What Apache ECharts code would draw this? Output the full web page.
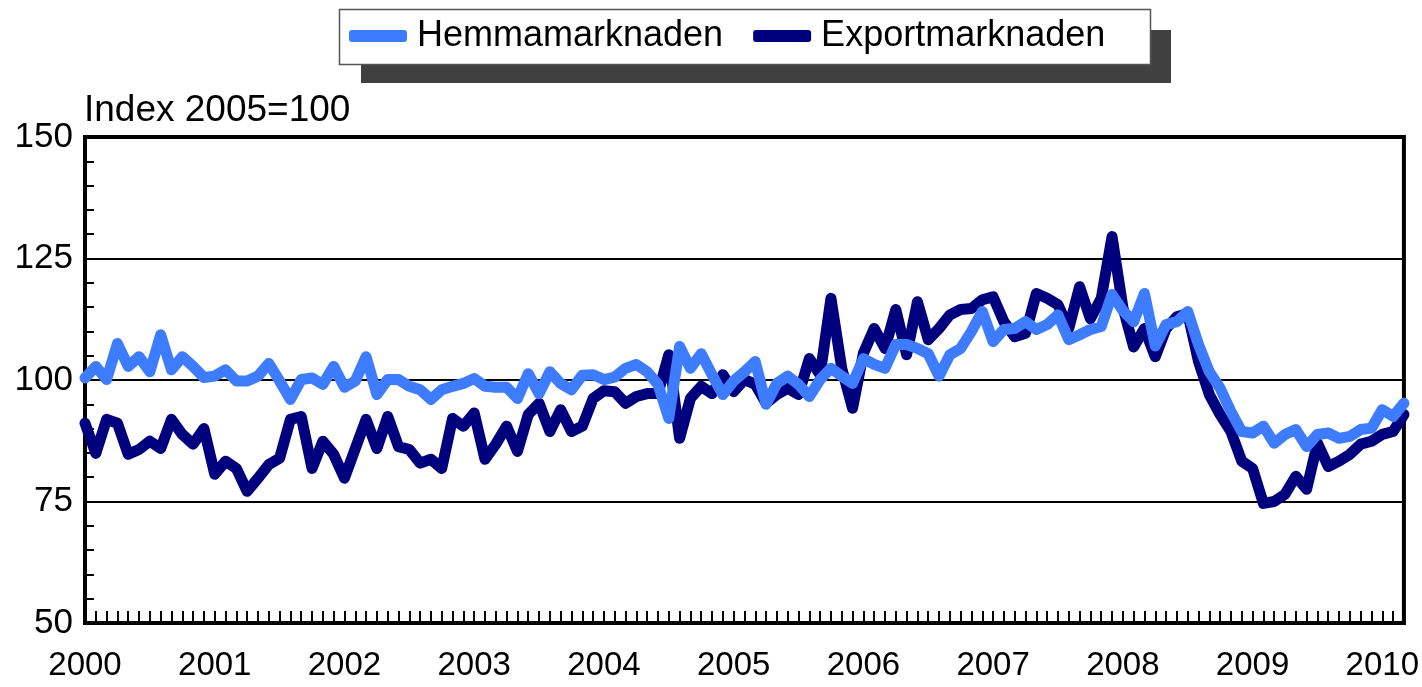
<!DOCTYPE html>
<html>
<head>
<meta charset="utf-8">
<script src="https://cdn.jsdelivr.net/npm/echarts@6/dist/echarts.min.js"></script>
<style>
  html, body { margin: 0; padding: 0; background: #fff; }
  #chart-container { width: 1422px; height: 687px; }
</style>
</head>
<body>
<div id="chart-container"></div>
<script>
var dom = document.getElementById('chart-container');
var myChart = echarts.init(dom, null, { renderer: 'canvas' });

// monthly, Jan 2000 - Mar 2010
var years = ['2000', '2001', '2002', '2003', '2004', '2005', '2006', '2007', '2008', '2009', '2010'];
var months = [];
years.forEach(function (y) {
    for (var m = 1; m <= 12; m++) {
        if (y === '2010' && m > 3) break;
        months.push(y + '-' + (m < 10 ? '0' + m : m));
    }
});

var hemma = [
    100.4, 102.8, 100.1, 107.5, 102.8, 104.8, 101.7, 109.3, 102.1, 104.8, 102.8, 100.5,
    100.8, 102.1, 99.8, 99.8, 100.8, 103.4, 99.8, 96.0, 100.1, 100.4, 99.1, 102.8,
    98.5, 99.8, 104.8, 97.0, 100.1, 100.1, 98.7, 98.0, 96.0, 98.0, 98.7, 99.3,
    100.3, 98.7, 98.5, 98.5, 96.2, 101.3, 97.2, 101.7, 99.3, 98.0, 101.0, 101.1,
    100.1, 100.6, 102.4, 103.2, 101.7, 99.1, 92.1, 106.9, 102.4, 105.4, 101.1, 97.0,
    99.8, 101.7, 103.8, 95.0, 99.3, 100.8, 99.1, 96.6, 100.1, 102.4, 100.8, 99.3,
    104.4, 103.2, 102.4, 107.3, 107.3, 106.5, 105.4, 100.8, 105.2, 106.5, 110.0, 114.1,
    107.9, 110.4, 110.6, 112.0, 110.4, 111.4, 113.4, 108.3, 109.3, 110.4, 111.0, 117.6,
    114.3, 112.0, 117.8, 107.0, 111.4, 112.0, 114.1, 107.3, 101.7, 98.3, 93.5, 89.4,
    89.1, 90.5, 87.0, 88.8, 89.8, 86.3, 88.8, 89.1, 88.0, 88.4, 89.8, 90.1,
    93.9, 92.5, 95.2
];

var export_ = [
    91.1, 84.9, 91.9, 91.1, 84.7, 85.7, 87.4, 85.9, 91.9, 88.8, 86.8, 90.0,
    80.6, 83.3, 81.8, 77.1, 79.8, 82.6, 83.9, 91.9, 92.5, 81.8, 87.4, 84.7,
    79.8, 85.9, 91.9, 85.9, 92.5, 86.3, 85.7, 82.9, 83.7, 81.8, 92.1, 90.5,
    93.2, 83.7, 86.8, 90.5, 85.3, 92.9, 95.2, 89.4, 93.9, 89.4, 90.5, 96.2,
    97.8, 97.6, 95.2, 96.6, 97.2, 97.2, 105.2, 88.0, 96.2, 98.7, 97.2, 101.1,
    97.6, 100.1, 99.1, 95.2, 97.0, 98.3, 97.0, 104.4, 101.1, 116.8, 102.4, 94.2,
    105.5, 110.6, 106.5, 114.5, 105.2, 116.1, 108.3, 110.6, 113.4, 114.5, 114.7, 116.5,
    117.1, 112.0, 108.9, 109.6, 117.8, 116.8, 115.5, 110.6, 119.2, 112.6, 116.8, 129.5,
    115.0, 106.8, 110.6, 104.8, 110.6, 113.0, 113.7, 103.8, 97.0, 92.9, 89.4, 83.3,
    81.8, 74.6, 75.0, 76.5, 80.2, 77.5, 87.0, 82.2, 83.3, 84.7, 86.8, 87.4,
    88.8, 89.4, 92.9
];

var gridLeft = 85, gridRight = 17;
var plotWidth = 1422 - gridLeft - gridRight;

var option = {
    backgroundColor: '#fff',
    textStyle: { fontFamily: 'Liberation Sans, Arial, sans-serif', color: '#000' },
    title: {
        text: 'Index 2005=100',
        left: 84,
        top: 92,
        padding: 0,
        textStyle: { fontSize: 37, fontWeight: 'normal', color: '#000' }
    },
    // legend frame with its drop shadow
    graphic: [
        {
            type: 'rect',
            shape: { x: 361, y: 30, width: 810, height: 53 },
            style: { fill: '#404040' },
            z: 0
        },
        {
            type: 'rect',
            shape: { x: 339.5, y: 9.5, width: 811, height: 55 },
            style: { fill: '#fff', stroke: '#555', lineWidth: 1.5 },
            z: 1
        }
    ],
    legend: {
        left: 349,
        top: 18,
        padding: 0,
        itemGap: 30,
        itemWidth: 58,
        itemHeight: 12,
        icon: 'roundRect',
        z: 10,
        textStyle: { fontSize: 36, color: '#000', padding: [0, 0, 0, 5] },
        data: ['Hemmamarknaden', 'Exportmarknaden']
    },
    grid: {
        left: gridLeft,
        right: gridRight,
        top: 137,
        bottom: 64,
        show: true,
        borderColor: '#000',
        borderWidth: 4
    },
    xAxis: {
        type: 'category',
        data: months,
        boundaryGap: false,
        axisLine: { lineStyle: { color: '#000', width: 4 } },
        axisTick: {
            inside: true,
            length: 12,
            interval: 0,
            lineStyle: { color: '#000', width: 2 }
        },
        axisLabel: {
            interval: function (idx) { return idx % 12 === 0; },
            formatter: function (v) { return v.slice(0, 4); },
            fontSize: 33,
            color: '#000',
            margin: 26
        },
        splitLine: { show: false }
    },
    yAxis: [
        {
            type: 'value',
            min: 50,
            max: 150,
            interval: 25,
            axisLine: { show: true, lineStyle: { color: '#000', width: 4 } },
            axisTick: { show: false },
            minorTick: { show: false },
            axisLabel: { fontSize: 35, color: '#000', margin: 12 },
            splitLine: { lineStyle: { color: '#000', width: 2 } }
        },
        {
            // only carries the small inward ticks on the left edge
            type: 'value',
            position: 'right',
            offset: -plotWidth,
            min: 50,
            max: 150,
            interval: 25,
            axisLine: { show: false },
            axisLabel: { show: false },
            splitLine: { show: false },
            axisTick: { show: true, length: 10, lineStyle: { color: '#000', width: 2 } },
            minorTick: {
                show: true,
                splitNumber: 5,
                length: 10,
                lineStyle: { color: '#000', width: 2 }
            }
        }
    ],
    series: [
        {
            name: 'Hemmamarknaden',
            type: 'line',
            data: hemma,
            symbol: 'none',
            z: 3,
            itemStyle: { color: '#3d7cff' },
            lineStyle: { color: '#3d7cff', width: 11, join: 'round', cap: 'round' }
        },
        {
            name: 'Exportmarknaden',
            type: 'line',
            data: export_,
            symbol: 'none',
            z: 2,
            itemStyle: { color: '#00007f' },
            lineStyle: { color: '#00007f', width: 11, join: 'round', cap: 'round' }
        }
    ]
};

myChart.setOption(option);
window.addEventListener('resize', myChart.resize);
</script>
</body>
</html>
